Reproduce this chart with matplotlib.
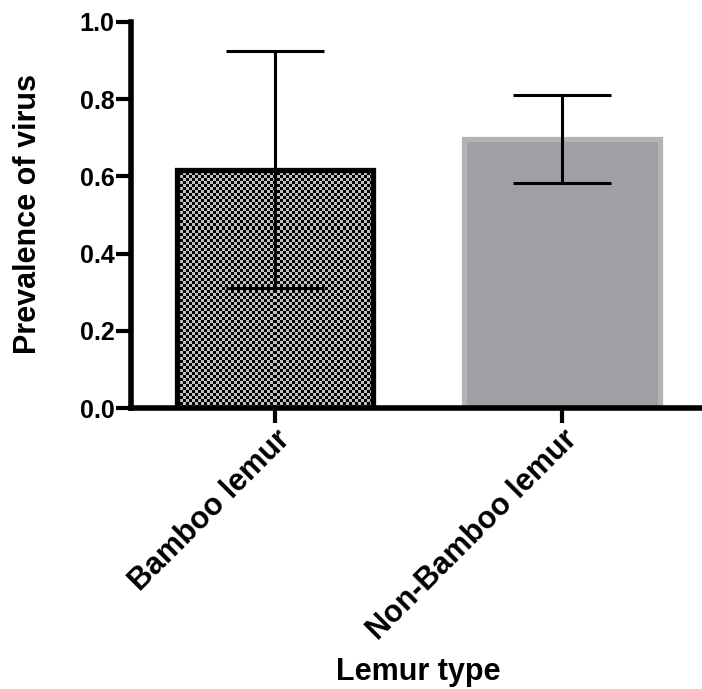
import numpy as np
import matplotlib
matplotlib.use("Agg")
import matplotlib.pyplot as plt

categories = ["Bamboo lemur", "Non-Bamboo lemur"]
values = [0.617, 0.697]
errors = [0.307, 0.113]
yticks = [0.0, 0.2, 0.4, 0.6, 0.8, 1.0]

plt.rcParams['font.family'] = ['Liberation Sans', 'DejaVu Sans']
plt.rcParams['font.weight'] = 'bold'

W, H = 702, 689
fig = plt.figure(figsize=(W / 100, H / 100), dpi=100)
ax = fig.add_axes([131 / W, (H - 408) / H, (702 - 131) / W, (408 - 22) / H])

x = np.arange(len(categories))
bars = ax.bar(x, values, width=0.683, zorder=2)
b1, b2 = bars
b1.set_facecolor('none')
b1.set_edgecolor('black')
b1.set_linewidth(3.8)
b2.set_facecolor('#a09fa4')
b2.set_edgecolor('#b3b3b3')
b2.set_linewidth(3.8)

# checkerboard texture for first bar
cell = 3
bw_px = 196
bh_px = int(values[0] * 386)
nx, ny = bw_px // cell, bh_px // cell
yy, xx = np.mgrid[0:ny, 0:nx]
tex = ((xx + yy) % 2).astype(float)
x0 = b1.get_x()
ax.imshow(tex, cmap=matplotlib.colors.ListedColormap(['#000000', '#c0c0c0']),
          extent=[x0, x0 + b1.get_width(), 0, values[0]], aspect='auto',
          interpolation='nearest', zorder=1.5, clip_path=b1, clip_on=True)

ax.errorbar(x, values, yerr=errors, fmt='none', ecolor='black', elinewidth=2.2,
            capsize=35, capthick=2.2, zorder=3)

ax.set_xlim(-0.502, 1.488)
ax.set_ylim(0, 1.0)
ax.set_yticks(yticks)
ax.set_yticklabels([f"{v:.1f}" for v in yticks], fontsize=18, fontweight='bold')
ax.set_xticks(x)
ax.set_xticklabels(categories, rotation=45, ha='right', rotation_mode='anchor',
                   fontsize=22, fontweight='bold')
for s in ['top', 'right']:
    ax.spines[s].set_visible(False)
for s in ['left', 'bottom']:
    ax.spines[s].set_linewidth(4)
ax.tick_params(axis='both', width=3, length=11, pad=1)
ax.set_ylabel("Prevalence of virus", fontsize=22, fontweight='bold', va='center')
ax.yaxis.set_label_coords(-0.180, 0.503)
ax.set_xlabel("Lemur type", fontsize=22, fontweight='bold', va='center')
ax.xaxis.set_label_coords(0.503, -0.685)

fig.savefig("out.png", dpi=100)
